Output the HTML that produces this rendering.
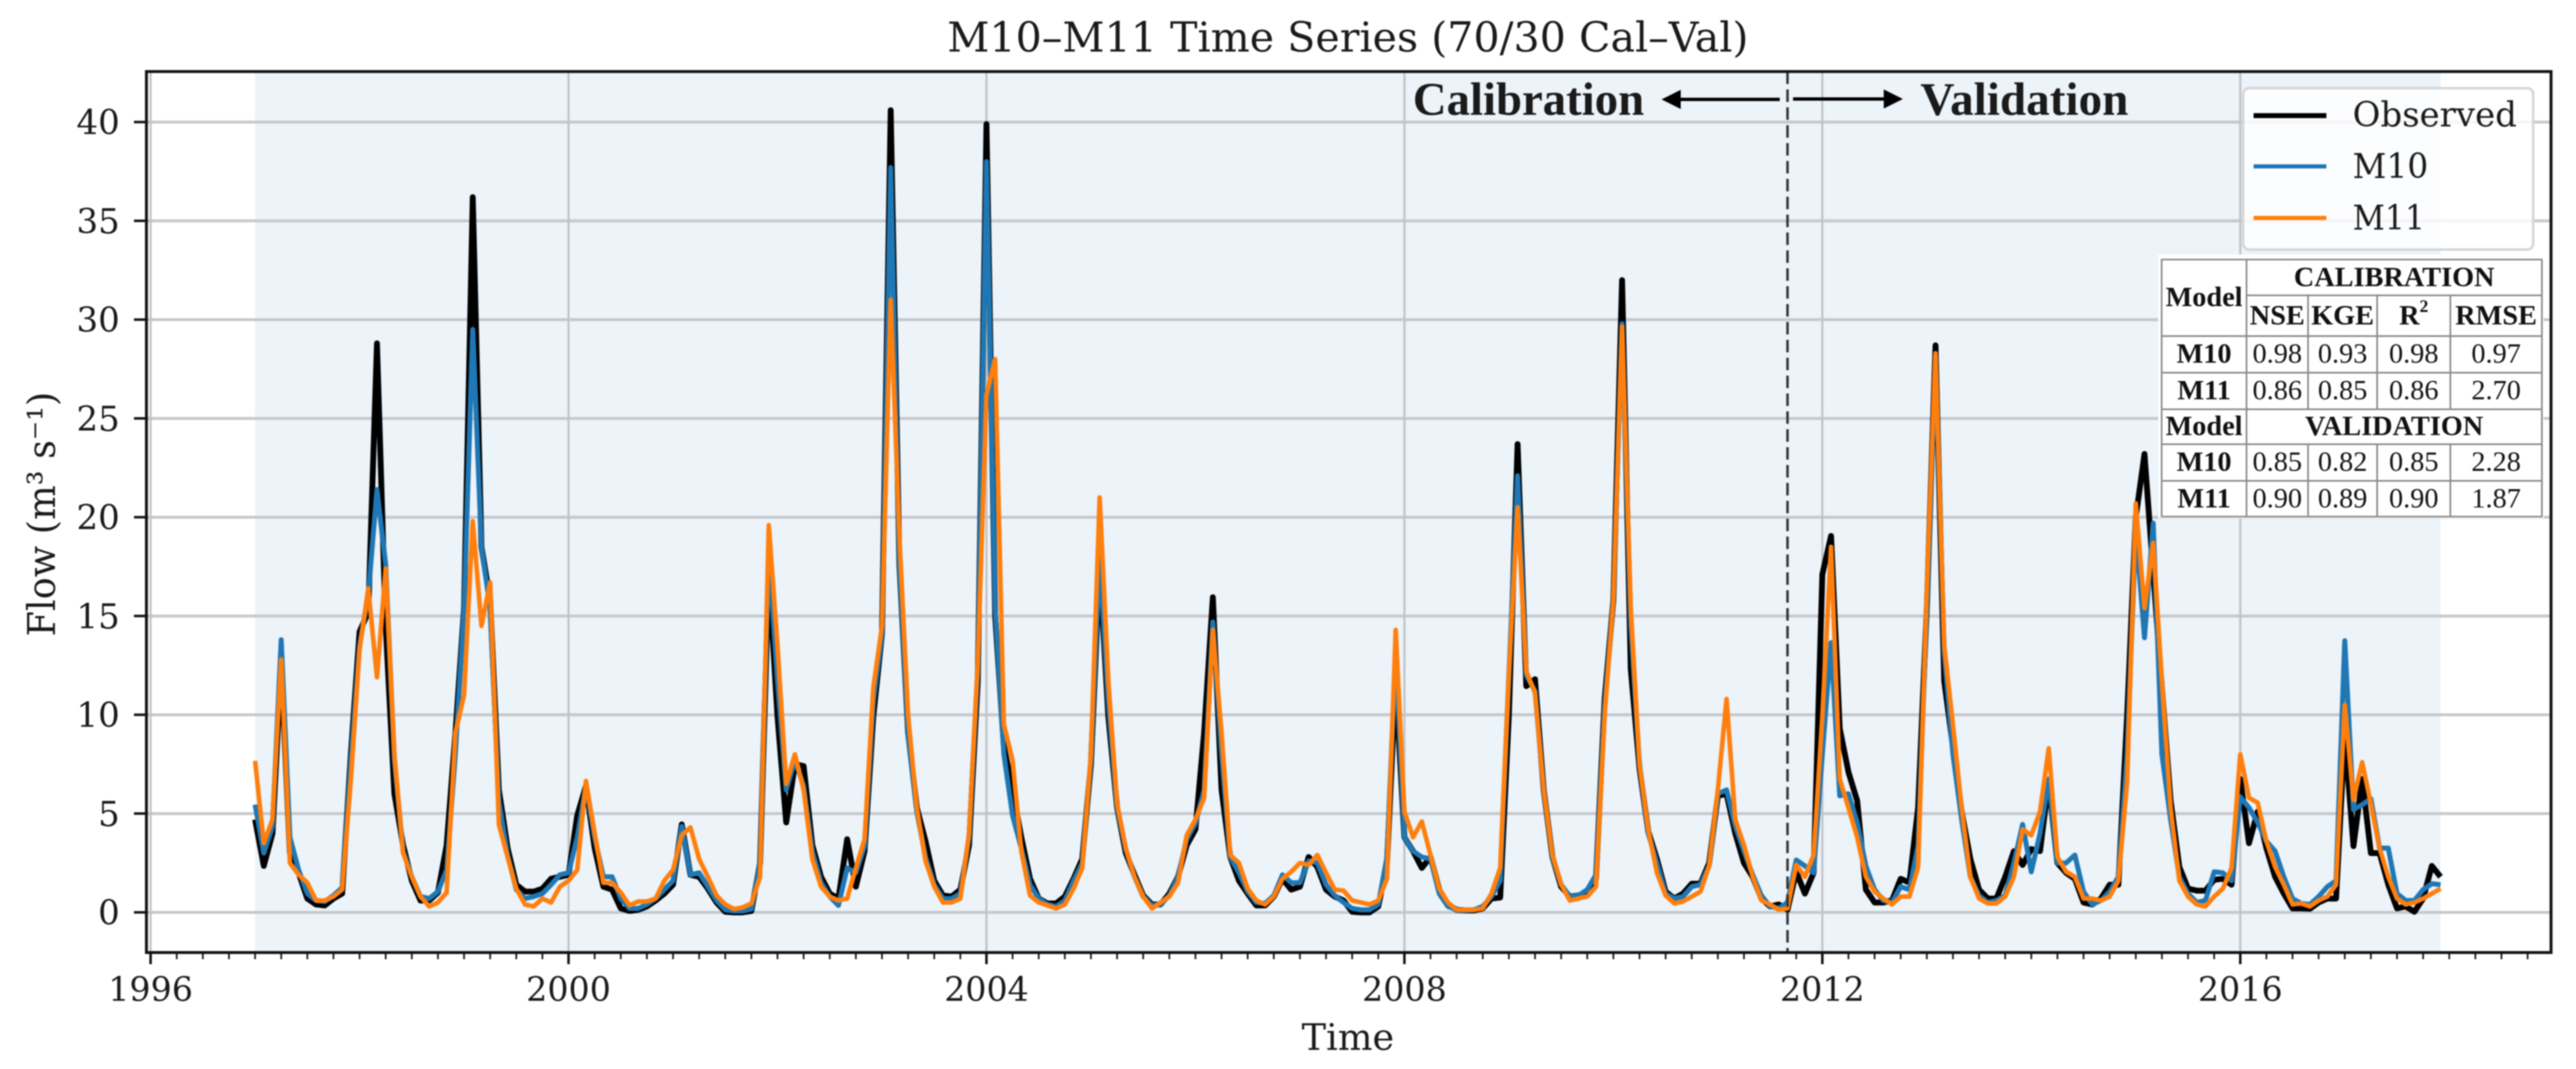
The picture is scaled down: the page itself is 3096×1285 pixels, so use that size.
<!DOCTYPE html>
<html lang="en">
<head>
<meta charset="utf-8">
<title>M10–M11 Time Series</title>
<style>
html,body{margin:0;padding:0;background:#fff;}
#stage{position:relative;width:3096px;height:1285px;overflow:hidden;background:#fff;filter:blur(0.8px);}
#chart{position:absolute;left:0;top:0;}
#chart text{fill:#1a1a1a;}
.serif{font-family:"DejaVu Serif","Liberation Serif",serif;}
.times{font-family:"Liberation Serif","Times New Roman",serif;}
#table-bg{position:absolute;left:2594px;top:306px;width:463px;height:317px;background:#fff;}
#metrics{position:absolute;left:2597px;top:311px;width:457px;height:309px;border-collapse:collapse;table-layout:fixed;font-family:"Liberation Serif",serif;font-size:34px;line-height:1;color:#111;text-align:center;}
#metrics td{border:2px solid #8a8a8a;padding:0;vertical-align:middle;overflow:visible;white-space:nowrap;}
#metrics .b{font-weight:bold;}
#metrics .dk{border-left:2.5px solid #444;}
#metrics sup{font-size:21px;line-height:0;position:relative;top:-2px;vertical-align:super;}
</style>
</head>
<body>
<div id="stage">
<svg id="chart" width="3096" height="1285" viewBox="0 0 3096 1285" xmlns="http://www.w3.org/2000/svg">
  <rect id="plot-bg" x="176" y="86" width="2890" height="1059" fill="#fff"/>
  <g id="shade"></g>
  <g id="grid"></g>
  <g id="series"></g>
  <g id="split"></g>
  <g id="axes"></g>
  <text class="serif" x="1620" y="62" font-size="50" text-anchor="middle" textLength="963" lengthAdjust="spacingAndGlyphs">M10–M11 Time Series (70/30 Cal–Val)</text>
  <text class="serif" x="1620" y="1262" font-size="44" text-anchor="middle">Time</text>
  <text class="serif" transform="translate(66,765) rotate(-90)" font-size="46" textLength="294" lengthAdjust="spacingAndGlyphs">Flow (m³ s⁻¹)</text>
  <text class="times" x="1698" y="138" font-size="56" font-weight="bold" textLength="278" lengthAdjust="spacingAndGlyphs" fill="#000">Calibration</text>
  <text class="times" x="2308" y="138" font-size="56" font-weight="bold" textLength="250" lengthAdjust="spacingAndGlyphs" fill="#000">Validation</text>
  <g>
    <line x1="2139" y1="119.5" x2="2015" y2="119.5" stroke="#000" stroke-width="4"/>
    <polygon points="1997,119.5 2020,108 2020,131" fill="#000"/>
  </g>
  <g>
    <line x1="2155" y1="119" x2="2270" y2="119" stroke="#000" stroke-width="4"/>
    <polygon points="2287,119 2264,107.5 2264,130.5" fill="#000"/>
  </g>
  <g>
    <rect x="2696" y="106" width="348.5" height="194" rx="7" fill="#fff" fill-opacity="0.82" stroke="#d4d6d8" stroke-width="3"/>
    <g>
      <line x1="2708.5" x2="2796" y1="139" y2="139" stroke="#000" stroke-width="6"/>
      <text class="serif" x="2827.5" y="152" font-size="41" textLength="197.5" lengthAdjust="spacingAndGlyphs">Observed</text>
    </g>
    <g>
      <line x1="2708.5" x2="2796" y1="200" y2="200" stroke="#1f77b4" stroke-width="5"/>
      <text class="serif" x="2827.5" y="214" font-size="41" textLength="91" lengthAdjust="spacingAndGlyphs">M10</text>
    </g>
    <g>
      <line x1="2708.5" x2="2796" y1="262" y2="262" stroke="#ff7f0e" stroke-width="5"/>
      <text class="serif" x="2827.5" y="276" font-size="41" textLength="87" lengthAdjust="spacingAndGlyphs">M11</text>
    </g>
  </g>
</svg>
<div id="table-bg"></div>
<table id="metrics">
  <colgroup><col style="width:102px"><col style="width:74px"><col style="width:83px"><col style="width:88px"><col style="width:110px"></colgroup>
  <tr style="height:43px">
    <td class="b" rowspan="2">Model</td>
    <td class="b" colspan="4">CALIBRATION</td>
  </tr>
  <tr style="height:49px">
    <td class="b">NSE</td>
    <td class="b">KGE</td>
    <td class="b dk">R<sup>2</sup></td>
    <td class="b">RMSE</td>
  </tr>
  <tr style="height:44px">
    <td class="b">M10</td><td>0.98</td><td>0.93</td><td class="dk">0.98</td><td>0.97</td>
  </tr>
  <tr style="height:44px">
    <td class="b">M11</td><td>0.86</td><td>0.85</td><td class="dk">0.86</td><td>2.70</td>
  </tr>
  <tr style="height:42px">
    <td class="b">Model</td>
    <td class="b" colspan="4">VALIDATION</td>
  </tr>
  <tr style="height:44px">
    <td class="b">M10</td><td>0.85</td><td>0.82</td><td class="dk">0.85</td><td>2.28</td>
  </tr>
  <tr style="height:43px">
    <td class="b">M11</td><td>0.90</td><td>0.89</td><td class="dk">0.90</td><td>1.87</td>
  </tr>
</table>
</div>
<script>
// Monthly series, January 1997 to December 2017 (one row per year)
const observed = [
  4.7,2.35,4,12.6,3,2,0.7,0.4,0.35,0.7,0.95,8,
  14.2,15.2,28.8,14.5,6,3.4,1.6,0.6,0.6,1,3.4,9,
  15.4,36.2,18.5,15.8,6.2,3.25,1.4,1.05,1.05,1.2,1.7,1.8,
  1.9,4.9,6.4,3.25,1.3,1.15,0.2,0.07,0.13,0.3,0.6,0.95,
  1.4,4.45,1.9,1.8,1.2,0.5,0.03,0,0,0.07,2.5,17.2,
  9.9,4.55,7.5,7.4,3.4,1.8,0.95,0.7,3.7,1.3,3.1,9.9,
  14.1,40.6,17.6,9.1,5.3,3.6,1.6,0.85,0.8,1.15,3.4,11.7,
  39.9,15,8.4,6.2,3.8,1.7,0.7,0.45,0.45,0.8,1.7,2.7,
  7.5,17.5,9.9,5.3,3,1.9,0.85,0.4,0.4,0.95,1.8,3.4,
  4.2,9.1,15.95,6.2,2.8,1.6,0.95,0.35,0.35,0.8,1.7,1.15,
  1.3,2.8,2.3,1.15,0.8,0.6,0.03,0,0,0.3,2.5,11.7,
  3.8,3.1,2.25,2.8,1.15,0.4,0.13,0.1,0.1,0.2,0.7,0.75,
  10,23.7,11.45,11.8,6.2,2.8,1.3,0.8,0.85,1.05,1.7,10.8,
  15.8,32,12.3,7.3,4.1,2.7,1.05,0.7,0.95,1.45,1.45,2.5,
  5.9,6,4,2.5,1.8,0.7,0.3,0.4,0.13,2.05,0.95,2,
  17.1,19.05,9.3,7.1,5.65,1.15,0.5,0.5,0.6,1.7,1.5,5.3,
  15.4,28.7,11.7,8.4,5.1,2.7,1.15,0.7,0.7,1.8,3.1,2.4,
  3.2,3.1,6.6,2.5,2,1.7,0.5,0.4,0.7,1.4,1.4,9.9,
  20,23.2,17.2,11.35,5.65,2.3,1.2,1.1,1.1,1.65,1.7,1.4,
  6.75,3.5,5.1,3.25,1.8,0.95,0.2,0.2,0.18,0.5,0.7,0.7,
  9,3.35,6.75,3,3,1.4,0.2,0.3,0.03,0.7,2.35,1.8
];
const m10 = [
  5.45,3,4.35,13.8,3.8,2.15,0.95,0.6,0.55,0.85,1.25,7.7,
  13.5,16.1,21.4,17.6,7.7,3.1,1.8,0.8,0.7,1.05,2.15,8,
  15.4,29.5,18.5,15.4,5.65,2.9,1.15,0.7,0.8,0.95,1.4,1.9,
  2,3.8,6.4,3.8,1.8,1.8,0.7,0.2,0.2,0.4,0.7,1.15,
  1.6,4.35,1.9,2,1.3,0.6,0.13,0.07,0.07,0.17,2.5,18.2,
  11.7,6.2,7.7,6.4,3.1,1.5,0.8,0.35,2.25,2,3.35,10.6,
  14.1,37.7,17.6,9,5.1,2.8,1.4,0.7,0.7,0.95,3.8,12.3,
  38,15.4,8,4.9,3.25,1.4,0.7,0.4,0.3,0.6,1.6,2.5,
  7.7,18,10.6,5.3,3.2,1.8,0.8,0.35,0.4,0.85,1.8,3.7,
  4.5,6.2,14.7,8,2.8,2,1.05,0.5,0.45,0.85,1.9,1.5,
  1.5,2.6,2.5,1.4,0.85,0.5,0.2,0.13,0.13,0.4,2.8,13.2,
  3.8,3.1,2.8,2.7,0.95,0.3,0.13,0.1,0.13,0.3,0.8,1.6,
  12,22.1,12,11.2,6.2,2.8,1.4,0.8,0.85,1.15,1.9,10.4,
  15.8,29.8,14.5,7.5,4,2.5,0.95,0.7,0.8,1.3,1.4,2.35,
  6,6.2,4.35,3.1,1.9,0.85,0.3,0.2,0.5,2.65,2.35,2,
  8,13.65,5.9,6,4.55,2.35,1.15,0.6,0.5,1.3,1.15,3.4,
  15.4,28.1,13.2,8,4.7,1.8,0.85,0.5,0.6,0.85,2.5,4.45,
  2.05,4,6.75,2.5,2.5,2.9,1.05,0.4,0.6,1.05,1.8,8,
  19.4,13.9,19.7,8,4.7,1.8,0.95,0.5,0.6,2.05,2,1.6,
  5.85,5.3,4.55,3.6,3.1,1.8,0.7,0.45,0.4,0.8,1.3,1.6,
  13.75,5.2,5.45,5.75,3.25,3.25,0.95,0.6,0.6,1.15,1.45,1.4
];
const m11 = [
  7.67,3.5,4.7,12.8,2.5,1.9,1.5,0.6,0.6,0.8,1.15,6.7,
  13.3,16.4,11.9,17.4,8,3,1.8,0.8,0.3,0.5,1,9.1,
  11,19.8,14.5,16.7,4.45,2.8,1.2,0.4,0.3,0.7,0.5,1.3,
  1.6,2.15,6.65,4,1.5,1.5,1,0.35,0.55,0.55,0.7,1.6,
  2.15,3.9,4.3,2.7,1.8,0.85,0.4,0.17,0.25,0.45,1.8,19.6,
  13.5,6.5,8,6.2,2.7,1.3,0.8,0.6,0.7,2.25,3.7,11.35,
  14.5,31,19,10,5.3,2.6,1.3,0.5,0.5,0.7,4,12.6,
  26.2,28,9.5,7.7,3.1,0.85,0.5,0.35,0.2,0.4,1.2,2.25,
  8,21,11.7,5.5,3.25,1.8,0.8,0.2,0.5,0.8,1.5,3.9,
  4.7,5.8,14.3,9.1,2.9,2.5,1.2,0.6,0.4,0.8,1.7,2.05,
  2.5,2.4,2.9,2,1.15,1.1,0.6,0.5,0.4,0.6,1.7,14.3,
  5.1,3.8,4.6,2.9,1.2,0.5,0.13,0.13,0.13,0.2,0.95,2.25,
  12,20.5,12.2,11.1,6.2,2.9,1.4,0.6,0.7,0.8,1.3,10,
  15.8,29.65,15.4,7.5,4.2,2,0.85,0.45,0.55,0.8,1.05,2.35,
  6.2,10.8,4.7,3.4,1.8,0.6,0.4,0.13,0.2,2.4,1.8,2.9,
  9.9,18.5,6.75,5.3,3.8,1.8,1.05,0.7,0.4,0.8,0.8,2.3,
  16.3,28.3,13.5,9.5,5.3,1.8,0.7,0.45,0.45,0.8,1.8,4.2,
  3.9,5.1,8.3,2.8,2.05,1.8,0.7,0.7,0.6,0.8,1.6,6.55,
  20.7,15.4,18.7,11.7,5.3,1.6,0.8,0.4,0.3,0.8,1.2,2.25,
  8,5.8,5.55,3.6,2.3,1.4,0.4,0.45,0.3,0.6,0.8,1.4,
  10.5,5.7,7.6,5.5,3.25,1.8,0.7,0.4,0.5,0.7,0.95,1.2
];
const yTicks = [0,5,10,15,20,25,30,35,40];
const xTickYears = [1996,2000,2004,2008,2012,2016];
const startYear = 1997;
const splitIndex = 176;

const SVGNS = 'http://www.w3.org/2000/svg';
const AX = {left:176, right:3066, top:86, bottom:1145};
function xScale(t){ return 181 + (t - 1996) * 125.575; }
function yScale(v){ return 1096.7 - v * 23.75; }
function monthTime(i){ return startYear + i / 12; }
function make(tag, parent, attrs, text){
  const n = document.createElementNS(SVGNS, tag);
  for (const k in attrs) n.setAttribute(k, attrs[k]);
  if (text !== undefined) n.textContent = text;
  parent.appendChild(n);
  return n;
}
const shadeG = document.getElementById('shade');
const gridG = document.getElementById('grid');
const seriesG = document.getElementById('series');
const splitG = document.getElementById('split');
const axesG = document.getElementById('axes');

// shaded span
const shadeRect = make('rect', shadeG, {x:xScale(monthTime(0)), y:AX.top, width:xScale(monthTime(observed.length-1))-xScale(monthTime(0)), height:AX.bottom-AX.top, fill:'#ecf3f9'});



// grid
yTicks.forEach(function(v){
  const l = make('line', gridG, {x1:AX.left, x2:AX.right, y1:yScale(v), y2:yScale(v), stroke:'#c6c8cb', 'stroke-width':3.5});
  
  
});
xTickYears.forEach(function(y){
  const l = make('line', gridG, {x1:xScale(y), x2:xScale(y), y1:AX.top, y2:AX.bottom, stroke:'#c0c2c5', 'stroke-width':2.5});
  
  
});

// series
function drawSeries(values, color, width, name){
  const pts = values.map(function(v, i){ return xScale(monthTime(i)).toFixed(2) + ',' + yScale(v).toFixed(2); }).join(' ');
  const p = make('polyline', seriesG, {points:pts, fill:'none', stroke:color, 'stroke-width':width, 'stroke-linejoin':'round', 'stroke-linecap':'butt'});
  
  
}
drawSeries(observed, '#000000', 7, 'observed-line');
drawSeries(m10, '#1f77b4', 6, 'm10-line');
drawSeries(m11, '#ff7f0e', 5.5, 'm11-line');

// calibration / validation split
const splitLine = make('line', splitG, {x1:xScale(monthTime(splitIndex)), x2:xScale(monthTime(splitIndex)), y1:AX.top, y2:AX.bottom, stroke:'#333', 'stroke-width':3, 'stroke-dasharray':'15 6.5'});



// spines
const frame = make('rect', axesG, {x:AX.left, y:AX.top, width:AX.right-AX.left, height:AX.bottom-AX.top, fill:'none', stroke:'#111', 'stroke-width':3.5});



// y ticks
yTicks.forEach(function(v){
  const t = make('line', axesG, {x1:161, x2:AX.left, y1:yScale(v), y2:yScale(v), stroke:'#111', 'stroke-width':3});
  
  
  const lb = make('text', axesG, {x:144, y:yScale(v)+15, 'font-size':41, 'text-anchor':'end', class:'serif'}, String(v));
  
  
});
// x minor ticks (quarterly)
for (let q = 0; q < 92; q++) {
  const tx = xScale(1996 + q / 4);
  if (tx > AX.right) break;
  const t = make('line', axesG, {x1:tx, x2:tx, y1:AX.bottom, y2:1153, stroke:'#111', 'stroke-width':2});
  
  
}
// x major ticks
xTickYears.forEach(function(y){
  const t = make('line', axesG, {x1:xScale(y), x2:xScale(y), y1:AX.bottom, y2:1159, stroke:'#111', 'stroke-width':3});
  
  
  const lb = make('text', axesG, {x:xScale(y), y:1203, 'font-size':40, 'text-anchor':'middle', class:'serif'}, String(y));
  
  
});
</script>
</body>
</html>
